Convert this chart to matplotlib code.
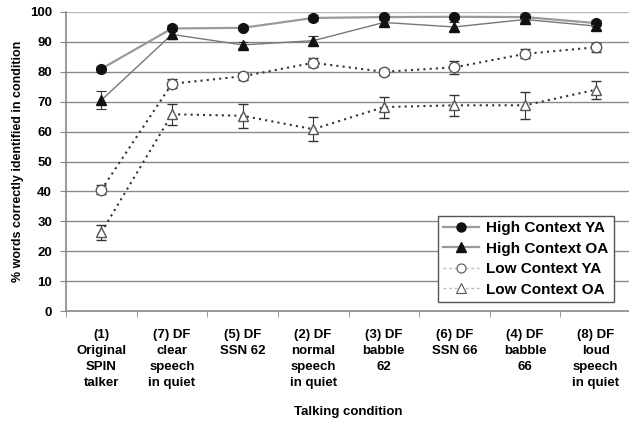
import matplotlib
matplotlib.use("Agg")
import matplotlib.pyplot as plt
from matplotlib.lines import Line2D
import numpy as np

categories = ["(1)\nOriginal\nSPIN\ntalker", "(7) DF\nclear\nspeech\nin quiet", "(5) DF\nSSN 62",
              "(2) DF\nnormal\nspeech\nin quiet", "(3) DF\nbabble\n62", "(6) DF\nSSN 66",
              "(4) DF\nbabble\n66", "(8) DF\nloud\nspeech\nin quiet"]
high_ya = [81.0, 94.5, 94.7, 98.0, 98.3, 98.4, 98.3, 96.3]
high_ya_err = [1.0, 1.0, 0.8, 1.0, 1.0, 0.8, 1.0, 1.0]
high_oa = [70.5, 92.5, 89.0, 90.4, 96.5, 95.0, 97.5, 95.3]
high_oa_err = [3.0, 1.5, 1.0, 1.5, 1.2, 1.5, 1.0, 1.2]
low_ya = [40.5, 76.0, 78.5, 83.0, 80.0, 81.5, 86.0, 88.2]
low_ya_err = [1.5, 1.5, 1.2, 1.5, 1.0, 2.2, 1.5, 1.5]
low_oa = [26.3, 65.8, 65.3, 60.8, 68.2, 68.8, 68.8, 74.0]
low_oa_err = [2.5, 3.5, 4.0, 4.0, 3.5, 3.5, 4.6, 3.0]
yticks = list(range(0, 101, 10))
series_labels = ['High Context YA', 'High Context OA', 'Low Context YA', 'Low Context OA']

plt.rcParams['font.family'] = ['Liberation Sans', 'DejaVu Sans']
plt.rcParams['font.weight'] = 'bold'

fig = plt.figure(figsize=(6.29, 4.29), dpi=100)
ax = fig.add_axes([66/629, (429-311)/429, (631-66)/629, (311-12)/429])
x = np.arange(len(categories))

for yv in yticks[1:]:
    ax.axhline(yv, color='#bbbbbb' if yv == 100 else '#8a8a8a', lw=1.0, zorder=0)

ekw = dict(ecolor='#333333', elinewidth=0.8, capsize=3.5, capthick=0.8)
ax.errorbar(x, high_ya, yerr=high_ya_err, color='#9a9a9a', lw=1.6, marker='o', ms=7,
            mfc='#111111', mec='#111111', zorder=4, **ekw)
ax.errorbar(x, high_oa, yerr=high_oa_err, color='#777777', lw=1.0, marker='^', ms=7,
            mfc='#111111', mec='#111111', zorder=4, **ekw)
ax.errorbar(x, low_ya, yerr=low_ya_err, color='#333333', lw=1.5, ls=(0, (1, 2)), marker='o', ms=7.5,
            mfc='white', mec='#555555', mew=1.0, zorder=3, **ekw)
ax.errorbar(x, low_oa, yerr=low_oa_err, color='#333333', lw=1.5, ls=(0, (1, 2)), marker='^', ms=7.5,
            mfc='white', mec='#555555', mew=1.0, zorder=3, **ekw)

ax.set_xlim(-0.5, len(categories) - 0.5)
ax.set_ylim(0, 100)
ax.set_yticks(yticks)
ax.set_yticklabels([str(v) for v in yticks], fontsize=9.5, fontweight='bold')
ax.set_xticks(x)
ax.set_xticklabels(categories, fontsize=9.5, fontweight='bold', linespacing=1.45, va='top')
ax.set_xticks(np.arange(len(categories) + 1) - 0.5, minor=True)
ax.tick_params(axis='x', which='major', length=0, pad=13)
ax.tick_params(axis='x', which='minor', length=4, color='#888888', direction='out')
ax.tick_params(axis='y', length=4, color='#888888', direction='out', pad=6)
for s in ['top', 'right']:
    ax.spines[s].set_visible(False)
ax.spines['left'].set_color('#888888')
ax.spines['bottom'].set_color('#888888')
ax.spines['left'].set_linewidth(1.2)
ax.spines['bottom'].set_linewidth(1.2)

ax.set_ylabel('% words correctly identified in condition', fontsize=9, fontweight='bold', labelpad=4)
ax.set_xlabel('Talking condition', fontsize=9.5, fontweight='bold', labelpad=12)

handles = [
    Line2D([], [], color='#9a9a9a', lw=1.6, marker='o', ms=6.5, mfc='#111111', mec='#111111'),
    Line2D([], [], color='#9a9a9a', lw=1.6, marker='^', ms=6.5, mfc='#111111', mec='#111111'),
    Line2D([], [], color='#bbbbbb', lw=1.0, ls=(0, (2, 2)), marker='o', ms=6.5, mfc='white', mec='#555555', mew=0.8),
    Line2D([], [], color='#bbbbbb', lw=1.0, ls=(0, (2, 2)), marker='^', ms=6.5, mfc='white', mec='#555555', mew=0.8),
]
leg = ax.legend(handles, series_labels, loc='lower right', bbox_to_anchor=(0.975, 0.02), fontsize=11,
                frameon=True, fancybox=False, edgecolor='#555555', framealpha=1,
                handlelength=2.3, handletextpad=0.5, borderpad=0.35, labelspacing=0.42,
                borderaxespad=0.2)
leg.get_frame().set_linewidth(1.0)

fig.savefig('out.png', dpi=100)
